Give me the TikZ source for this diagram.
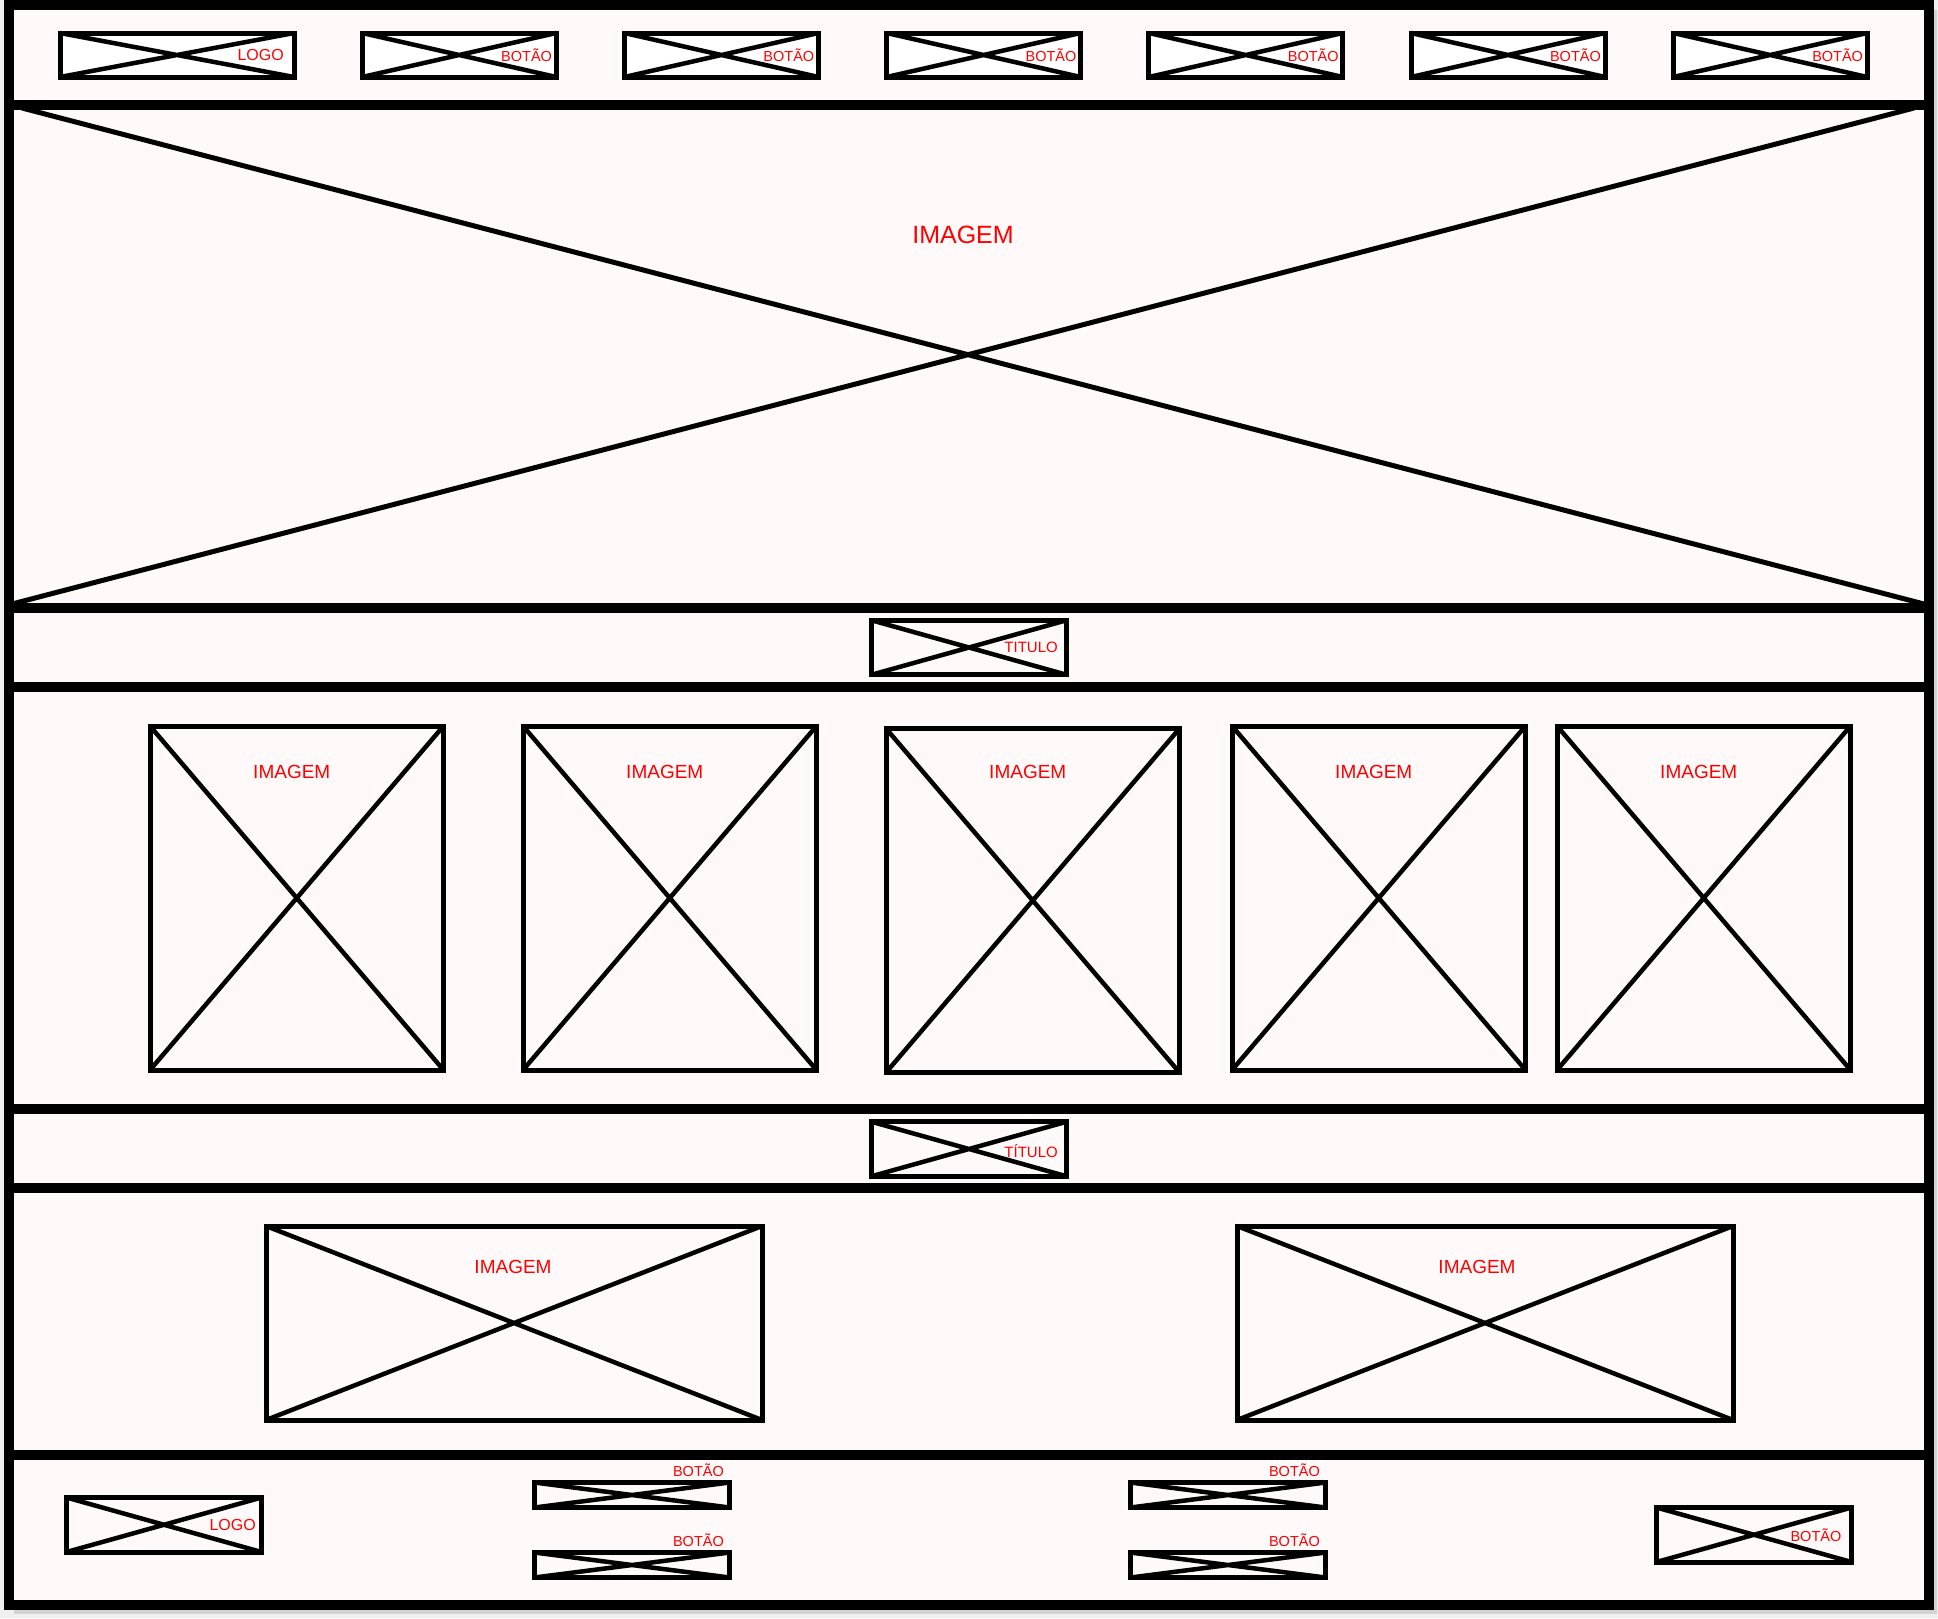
\documentclass[tikz,border=0pt]{standalone}
\usepackage{fontspec}
\setmainfont{Liberation Sans}
\usepackage{tikz}
\usetikzlibrary{positioning}
\definecolor{paper}{HTML}{FFF9F9}
\definecolor{tagred}{HTML}{FF0000}
\tikzstyle{frame} = [draw=black, line width=10pt]
\tikzstyle{box} = [rectangle, draw=black, line width=5pt, inner sep=0pt, outer sep=0pt]
\tikzstyle{btn} = [box, fill=white, minimum width=194pt, minimum height=44pt]
\tikzstyle{ttl} = [box, minimum width=195pt, minimum height=54.5pt]
\tikzstyle{imgbox} = [box, minimum width=293.5pt, minimum height=344pt]
\tikzstyle{wide} = [box, minimum width=496pt, minimum height=194pt]
\tikzstyle{link} = [box, minimum width=195pt, minimum height=25pt]
\tikzstyle{xline} = [draw=black, line width=4.5pt]
\tikzstyle{lbl} = [text=tagred, inner sep=0pt, font=\fontsize{14.5}{14.5}\selectfont]

\begin{document}
\begin{tikzpicture}[x=1pt, y=-1pt, node distance=68.2pt]
	\useasboundingbox [fill=gray!12] (0,0) rectangle (1938,1618);
	\fill [gray!35] (14,10) rectangle (1937,1614);
	\draw [frame, fill=paper] (9,5) rectangle (1928.5,1604.5);
	% section lines
	\foreach \y in {104.5,607.5,687,1109,1188,1455}
		\draw [frame] (9,\y) -- (1928.5,\y);

	% header
	\node (logo) [btn, minimum width=234pt] at (177,55) {};
	\node (menuA) [btn, right=of logo] {};
	\node (menuB) [btn, right=of menuA] {};
	\node (menuC) [btn, right=of menuB] {};
	\node (menuD) [btn, right=of menuC] {};
	\node (menuE) [btn, right=of menuD] {};
	\node (menuF) [btn, right=of menuE] {};

	% banner
	\coordinate (heroNW) at (22,108);
	\coordinate (heroSE) at (1924,604);
	\coordinate (heroSW) at (12,604);
	\coordinate (heroNE) at (1914,108);
	\draw [xline, line width=5pt] (heroNW) -- (heroSE) (heroSW) -- (heroNE);

	% titles
	\node (titleA) [ttl] at (969,647.5) {};
	\node (titleB) [ttl] at (969,1149) {};

	% gallery
	\node (imgA) [imgbox] at (296.75,898) {};
	\node (imgB) [imgbox, right=79.5pt of imgA] {};
	\node (imgC) [imgbox, right=69.5pt of imgB, yshift=-2.5pt] {};
	\node (imgD) [imgbox, right=52.5pt of imgC, yshift=2.5pt] {};
	\node (imgE) [imgbox, right=31.5pt of imgD] {};
	\coordinate (rowTxt) at (0,772);

	\node (wideA) [wide] at (514,1323) {};
	\node (wideB) [wide] at (1485,1323) {};

	% footer
	\node (footLogo) [ttl] at (164,1524.75) {};
	\node (linkA) [link] at (632,1495) {};
	\node (linkB) [link, below=45pt of linkA] {};
	\node (linkC) [link] at (1228,1495) {};
	\node (linkD) [link, below=45pt of linkC] {};
	\node (footBtn) [ttl] at (1754,1534.75) {};

	\foreach \b in {logo,menuA,menuB,menuC,menuD,menuE,menuF,titleA,titleB,imgA,imgB,imgC,imgD,imgE,wideA,wideB,footLogo,linkA,linkB,linkC,linkD,footBtn}
		\draw [xline] (\b.north west) -- (\b.south east) (\b.south west) -- (\b.north east);

	% labels
	\node (logoTxt) [lbl, font=\fontsize{16}{16}\selectfont, anchor=east] at ([xshift=-10pt]logo.east) {LOGO};
	\foreach \b in {menuA,menuB,menuC,menuD,menuE,menuF}
		\node (\b Txt) [lbl, anchor=east] at ([xshift=-4pt]\b.east) {BOTÃO};
	\node (heroTxt) [lbl, font=\fontsize{25}{25}\selectfont] at (963,234.5) {IMAGEM};
	\node (titleATxt) [lbl, font=\fontsize{15}{15}\selectfont, anchor=east] at ([xshift=-8.5pt]titleA.east) {TITULO};
	\node (titleBTxt) [lbl, font=\fontsize{15}{15}\selectfont, anchor=east] at ([xshift=-8.5pt, yshift=-2pt]titleB.east) {TÍTULO};
	\foreach \b in {imgA,imgB,imgC,imgD,imgE}
		\node (\b Txt) [lbl, font=\fontsize{19}{19}\selectfont, xshift=-5pt] at (\b.north |- rowTxt) {IMAGEM};
	\node (wideATxt) [lbl, font=\fontsize{19}{19}\selectfont] at ([xshift=-1pt, yshift=-40.5pt]wideA.north) {IMAGEM};
	\node (wideBTxt) [lbl, font=\fontsize{19}{19}\selectfont] at ([xshift=-8pt, yshift=-40.5pt]wideB.north) {IMAGEM};
	\node (footLogoTxt) [lbl, font=\fontsize{16}{16}\selectfont, anchor=east] at ([xshift=-5.5pt]footLogo.east) {LOGO};
	\foreach \b in {linkA,linkB,linkC,linkD}
		\node (\b Txt) [lbl, anchor=base east] at ([xshift=-5.5pt, yshift=6.5pt]\b.north east) {BOTÃO};
	\node (footBtnTxt) [lbl, anchor=east] at ([xshift=-10pt]footBtn.east) {BOTÃO};
\end{tikzpicture}
\end{document}
